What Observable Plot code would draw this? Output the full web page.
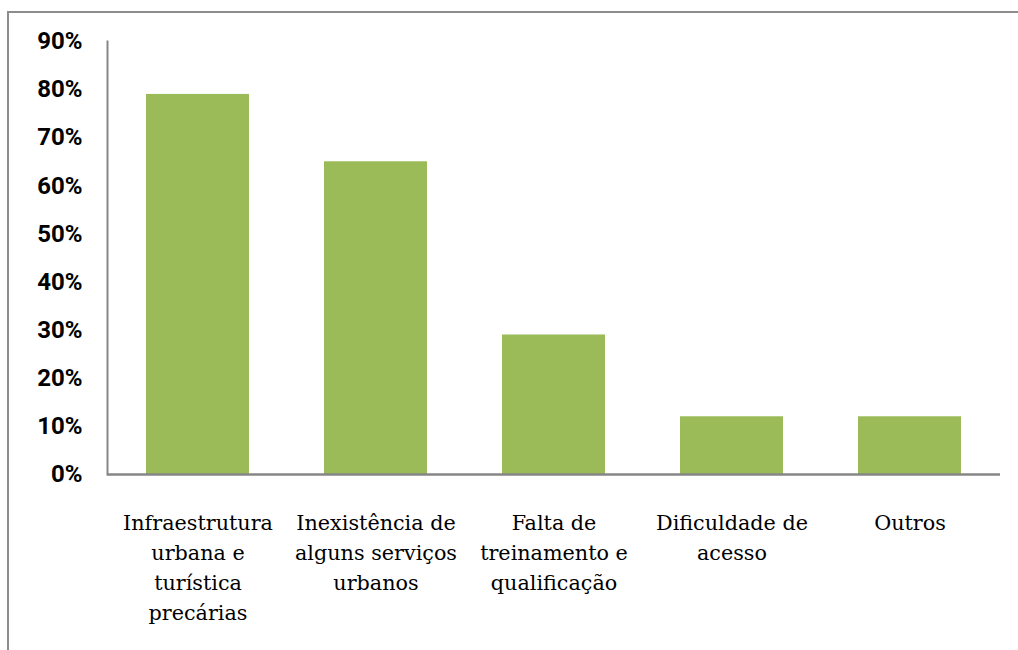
<!DOCTYPE html>
<html>
<head>
<meta charset="utf-8">
<script src="https://cdn.jsdelivr.net/npm/d3@7"></script>
<script src="https://cdn.jsdelivr.net/npm/@observablehq/plot@0.6"></script>
<style>
  html, body { margin: 0; padding: 0; background: #fff; overflow: hidden; width: 1018px; height: 650px; }
  #frame { position: absolute; left: 7px; top: 11px; width: 1100px; height: 700px; border: 2px solid #8c8c8c; box-sizing: border-box; }
  #chart { position: absolute; left: 0; top: 0; }
</style>
</head>
<body>
<div id="frame"></div>
<div id="chart"></div>
<script>
const categories = ["Infraestrutura urbana e turística precárias", "Inexistência de alguns serviços urbanos", "Falta de treinamento e qualificação", "Dificuldade de acesso", "Outros"];
const tickLabels = ["Infraestrutura\nurbana e\nturística\nprecárias", "Inexistência de\nalguns serviços\nurbanos", "Falta de\ntreinamento e\nqualificação", "Dificuldade de\nacesso", "Outros"];
const values = [79, 65, 29, 12, 12];
const yTicks = [0, 10, 20, 30, 40, 50, 60, 70, 80, 90];

const data = categories.map((c, i) => ({category: c, value: values[i]}));
const labelOf = new Map(categories.map((c, i) => [c, tickLabels[i]]));

// size the serif labels so the widest word matches the reference (~150px)
const serif = "DejaVu Serif";
const ctx = document.createElement("canvas").getContext("2d");
ctx.font = `27px '${serif}'`;
const xFontSize = Math.min(27, 27 * 150 / ctx.measureText("Infraestrutura").width);
const xLineHeight = 30 / xFontSize;

const chart = Plot.plot({
  width: 1018,
  height: 650,
  marginLeft: 107,
  marginRight: 18,
  marginTop: 41,
  marginBottom: 176,
  style: {background: "transparent", overflow: "visible"},
  x: {domain: categories, padding: 0.42, paddingOuter: 0.21, label: null},
  y: {domain: [0, 90], label: null},
  marks: [
    Plot.barY(data, {x: "category", y: "value", fill: "#9BBB59"}),
    Plot.frame({anchor: "left", stroke: "#868686", strokeWidth: 2}),
    Plot.ruleY([0], {stroke: "#868686", strokeWidth: 2.5}),
    Plot.axisY({ticks: yTicks, tickSize: 0, tickPadding: 25, tickFormat: d => d + "%", fontSize: 24, fontWeight: 700, fontFamily: "Roboto", fill: "#000", label: null}),
    Plot.axisX({tickSize: 0, tickPadding: 34, tickFormat: d => labelOf.get(d), fontSize: xFontSize, lineHeight: xLineHeight, fontFamily: serif, fill: "#000", label: null})
  ]
});
d3.select(chart).selectAll("text").each(function() {
  if (!/%$/.test(this.textContent)) {
    this.setAttribute("font-family", serif);
    this.style.fontFamily = `'${serif}'`;
  }
});
document.getElementById("chart").appendChild(chart);
</script>
</body>
</html>
